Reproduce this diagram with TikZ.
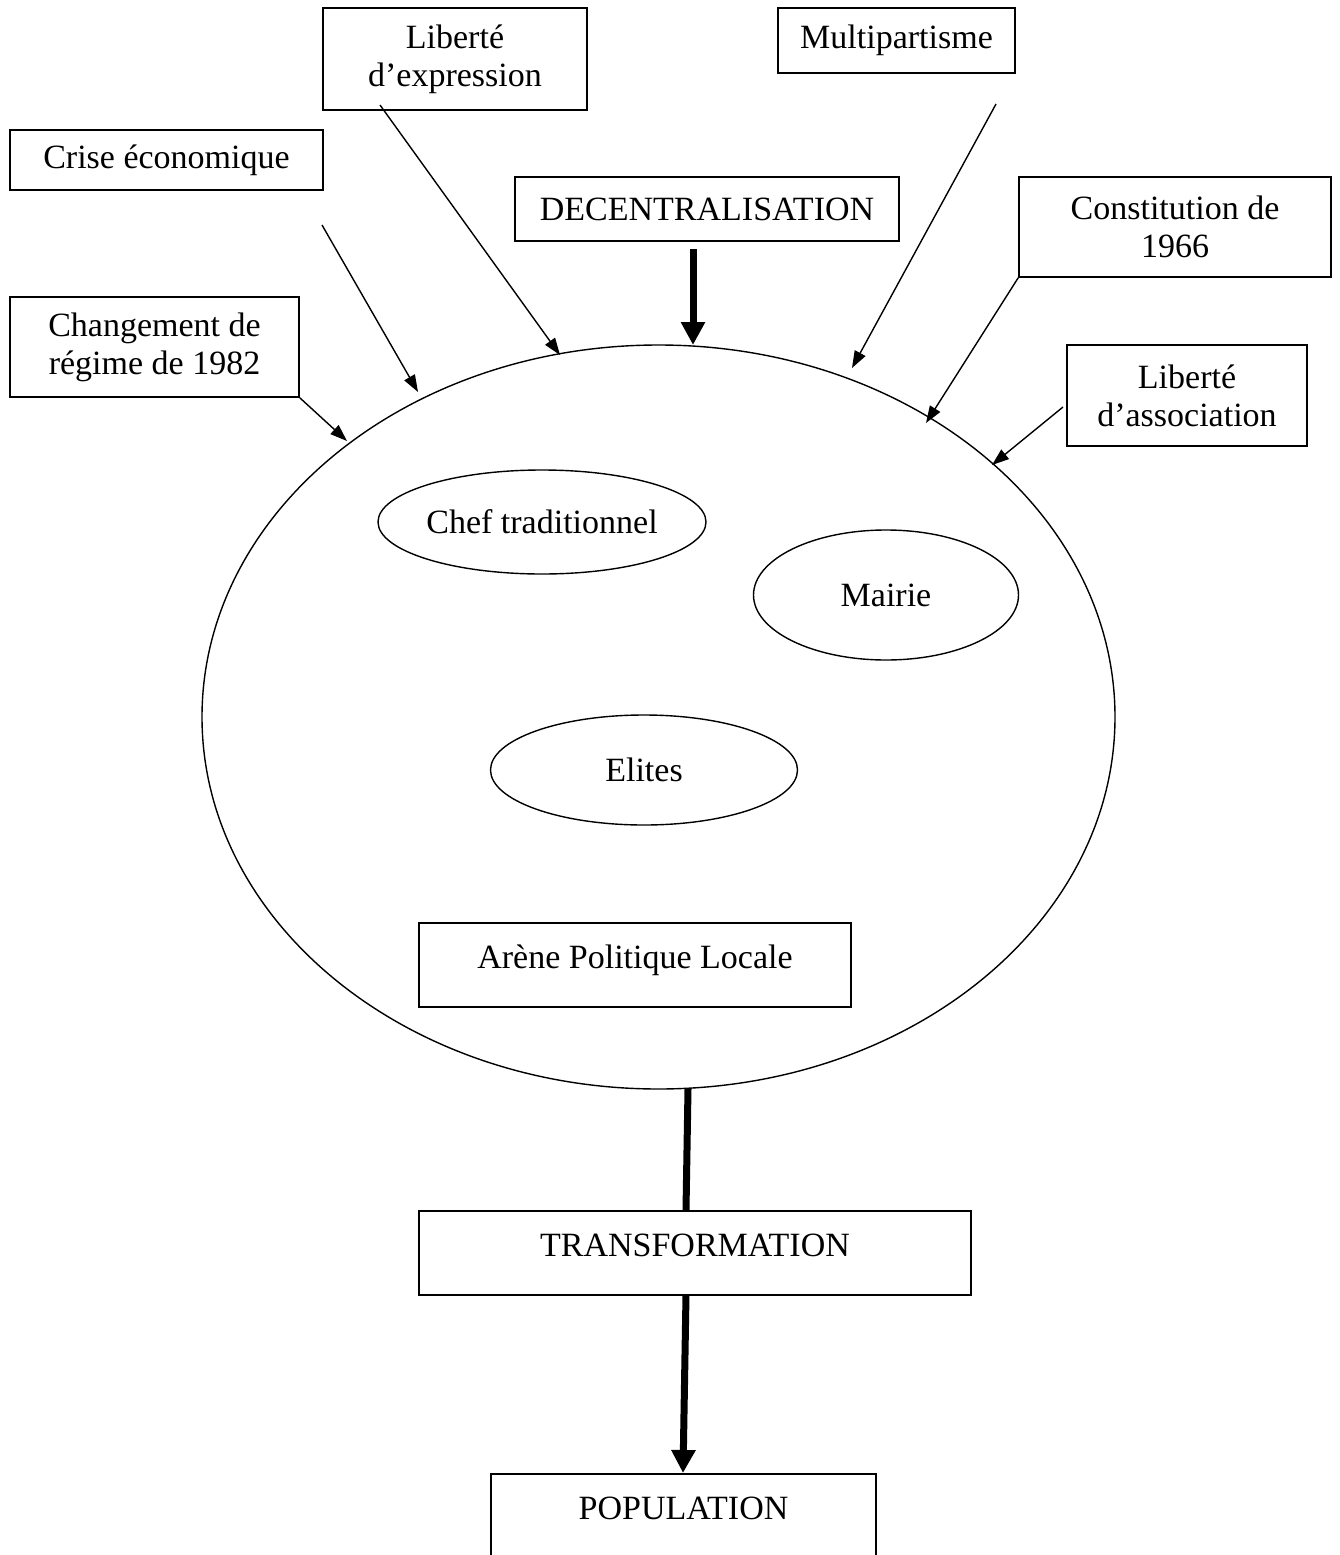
\documentclass[tikz,border=0pt]{standalone}
\usepackage{fontspec}
\setmainfont{Liberation Serif}
\usetikzlibrary{arrows.meta,shapes.geometric}
\begin{document}
\begin{tikzpicture}[x=1pt,y=-1pt,
  font=\fontsize{34}{38}\selectfont,
  box/.style={draw, line width=1.6pt, inner sep=0pt, align=center},
  lowbox/.style={draw, line width=1.6pt, inner xsep=0pt, inner ysep=0pt,
     text height=46pt, text depth=38pt, anchor=north},
  oval/.style={draw, ellipse, line width=1.4pt, inner sep=0pt},
  thinarrow/.style={line width=1.4pt, -{Triangle[length=17pt,width=12pt]}},
  thickarrow/.style={line width=7pt, -{Triangle[length=23pt,width=23pt]}},
  thickline/.style={line width=7pt}]
\useasboundingbox (0,0) rectangle (1339,1555);
\fill[white] (0,0) rectangle (1339,1555);

% outer boxes
\node[box, minimum width=264pt, minimum height=102pt] (expr) at (455,59) {Liberté\\d’expression};
\node[box, minimum width=237pt, minimum height=65pt] (multi) at (896.5,40.5) {Multipartisme};
\node[box, minimum width=313pt, minimum height=60pt] (crise) at (166.5,160) {Crise économique};
\node[box, minimum width=384pt, minimum height=64pt] (decent) at (707,209) {DECENTRALISATION};
\node[box, minimum width=312pt, minimum height=100pt] (const) at (1175,227) {Constitution de\\1966};
\node[box, minimum width=289pt, minimum height=100pt] (chg) at (154.5,347) {Changement de\\régime de 1982};
\node[box, minimum width=240pt, minimum height=101pt] (assoc) at (1187,395.5) {Liberté\\d’association};

% arena
\node[oval, minimum width=913pt, minimum height=744pt] (arena) at (658.5,717) {};
\node[oval, minimum width=328pt, minimum height=104pt] (chef) at (542,522) {Chef traditionnel};
\node[oval, minimum width=265pt, minimum height=130pt] (mairie) at (886,595) {Mairie};
\node[oval, minimum width=307pt, minimum height=110pt] (elites) at (644,770) {Elites};
\node[lowbox, minimum width=432pt] (arene) at (635,922) {Arène Politique Locale};

\node[lowbox, minimum width=552pt] (trans) at (695,1210) {TRANSFORMATION};
\node[lowbox, minimum width=385pt] (pop) at (683.5,1473) {POPULATION};

% connector ends
\coordinate (sCrise) at (322,225);  \coordinate (eCrise) at (418,392);
\coordinate (sExpr) at (380,105);   \coordinate (eExpr) at (560,355);
\coordinate (sMulti) at (996,104);  \coordinate (eMulti) at (852,368);
\coordinate (eConst) at (926,423);
\coordinate (sAssoc) at (1063,407); \coordinate (eAssoc) at (992,465);
\coordinate (eChg) at (347,441);
\coordinate (sDec) at (693,249);    \coordinate (eDec) at (693,345);
\coordinate (sArena) at (688,1089); \coordinate (eTransTop) at (686,1210);
\coordinate (sTrans) at (686,1295); \coordinate (ePop) at (683,1473);

\draw[thinarrow] (sCrise) -- (eCrise);
\draw[thinarrow] (sExpr) -- (eExpr);
\draw[thinarrow] (sMulti) -- (eMulti);
\draw[thinarrow] (const.south west) -- (eConst);
\draw[thinarrow] (sAssoc) -- (eAssoc);
\draw[thinarrow] (chg.south east) -- (eChg);
\draw[thickarrow] (sDec) -- (eDec);
\draw[thickline] (sArena) -- (eTransTop);
\draw[thickarrow] (sTrans) -- (ePop);
\end{tikzpicture}
\end{document}
